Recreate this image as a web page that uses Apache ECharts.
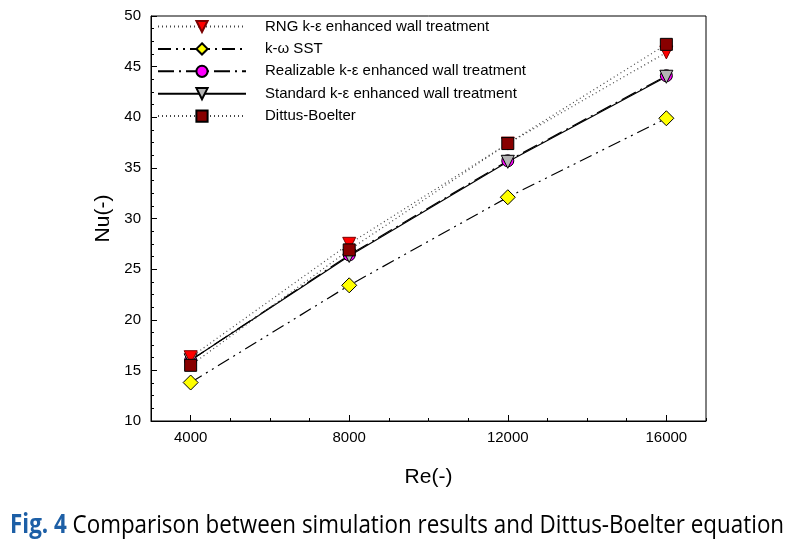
<!DOCTYPE html>
<html>
<head>
<meta charset="utf-8">
<script src="https://cdn.jsdelivr.net/npm/echarts@6/dist/echarts.min.js"></script>
<style>
html,body{margin:0;padding:0;background:#fff;}
#chart{width:806px;height:547px;}
</style>
</head>
<body>
<div id="chart"></div>
<script>
// ---- data ----
var reValues = [4000, 8000, 12000, 16000];
var rngValues = [16.3, 27.5, 37.4, 46.4];
var sstValues = [13.8, 23.4, 32.1, 39.9];
var realizableValues = [16.0, 26.4, 35.7, 44.1];
var standardValues = [16.0, 26.3, 35.6, 44.0];
var dittusValues = [15.5, 26.9, 37.4, 47.2];
var xTickLabels = [4000, 8000, 12000, 16000];
var seriesNames = [
  'RNG k-\u03b5 enhanced wall treatment',
  'k-\u03c9 SST',
  'Realizable k-\u03b5 enhanced wall treatment',
  'Standard k-\u03b5 enhanced wall treatment',
  'Dittus-Boelter'
];
var captionLabel = 'Fig. 4';
var captionText = 'Comparison between simulation results and Dittus-Boelter equation';

function pairs(vals){ return reValues.map(function(x,i){ return [x, vals[i]]; }); }

var FONT = '"Liberation Sans", Arial, sans-serif';
var chart = echarts.init(document.getElementById('chart'), null, {renderer:'canvas'});

// caption width fitting
var ctx = document.createElement('canvas').getContext('2d');
ctx.font = 'bold 26px "Open Sans"';
var w1 = ctx.measureText(captionLabel + '  ').width;
ctx.font = '26px "Open Sans"';
var w2 = ctx.measureText(captionText).width;
var capScale = 780 / (w1 + w2);

function mkSeries(name, vals, symbol, size, color, border, lineType, lineColor, rotate){
  return {
    name: name, type: 'line', data: pairs(vals),
    symbol: symbol, symbolSize: size, symbolRotate: rotate || 0,
    itemStyle: {color: color, borderColor: border, borderWidth: 1},
    lineStyle: {color: lineColor, width: 1.2, type: lineType},
    emphasis: {disabled: true}, animation: false
  };
}

var option = {
  backgroundColor: '#fff',
  animation: false,
  grid: {left: 151, right: 100, top: 16, bottom: 126, show: true, borderColor: '#000', borderWidth: 1},
  legend: {
    data: seriesNames,
    orient: 'vertical', left: 157, top: 19,
    itemWidth: 88, itemHeight: 14, itemGap: 7.4, padding: 0,
    textStyle: {fontFamily: FONT, fontSize: 15, color: '#000', padding: [0,0,0,14], lineHeight: 14},
    selectedMode: false
  },
  xAxis: [{
    type: 'value', min: 3000, max: 17000, interval: 1000,
    name: 'Re(-)', nameLocation: 'middle', nameGap: 46,
    nameTextStyle: {fontFamily: FONT, fontSize: 21, color: '#000'},
    axisLine: {show: true, lineStyle: {color: '#000', width: 1}},
    axisTick: {show: true, inside: true, length: 6, customValues: xTickLabels, lineStyle: {color: '#000'}},
    axisLabel: {customValues: xTickLabels, fontFamily: FONT, fontSize: 15, color: '#000', margin: 9,
      formatter: function(v){ return String(v); }},
    splitLine: {show: false}
  },{
    type: 'value', min: 3000, max: 17000, interval: 1000, position: 'bottom', offset: 0,
    axisLine: {show: false}, axisLabel: {show: false}, splitLine: {show: false},
    axisTick: {show: true, inside: true, length: 3, lineStyle: {color: '#000'}}
  }],
  yAxis: {
    type: 'value', min: 10, max: 50, interval: 5,
    name: 'Nu(-)', nameLocation: 'middle', nameGap: 28,
    nameTextStyle: {fontFamily: FONT, fontSize: 21, color: '#000'},
    axisLine: {show: true, lineStyle: {color: '#000', width: 1}},
    axisTick: {show: true, inside: true, length: 6, lineStyle: {color: '#000'}},
    minorTick: {show: true, splitNumber: 4, length: 3, lineStyle: {color: '#000'}},
    axisLabel: {fontFamily: FONT, fontSize: 15, color: '#000', margin: 10},
    splitLine: {show: false}
  },
  series: [
    mkSeries(seriesNames[1], sstValues, 'diamond', 15, '#ffff00', '#000', [13,5,2,5,2,5], '#000'),
    mkSeries(seriesNames[2], realizableValues, 'circle', 12, '#ff00ff', '#000', [16,5,2,5], '#000'),
    mkSeries(seriesNames[3], standardValues, 'triangle', 13, '#b4b4b4', '#000', 'solid', '#000', 180),
    mkSeries(seriesNames[0], rngValues, 'triangle', 13, '#ff0000', '#7a0000', [1,3], '#444', 180),
    mkSeries(seriesNames[4], dittusValues, 'rect', 12, '#880000', '#000', [1,3], '#444')
  ],
  graphic: [{
    type: 'text', left: 10, top: 513, scaleX: capScale,
    style: {
      text: '{a|' + captionLabel + '}  {b|' + captionText + '}',
      rich: {
        a: {fontFamily: '"Open Sans"', fontWeight: 'bold', fontSize: 26, fill: '#1d5fa6'},
        b: {fontFamily: '"Open Sans"', fontSize: 26, fill: '#000'}
      }
    }
  }]
};
chart.setOption(option);
</script>
</body>
</html>
